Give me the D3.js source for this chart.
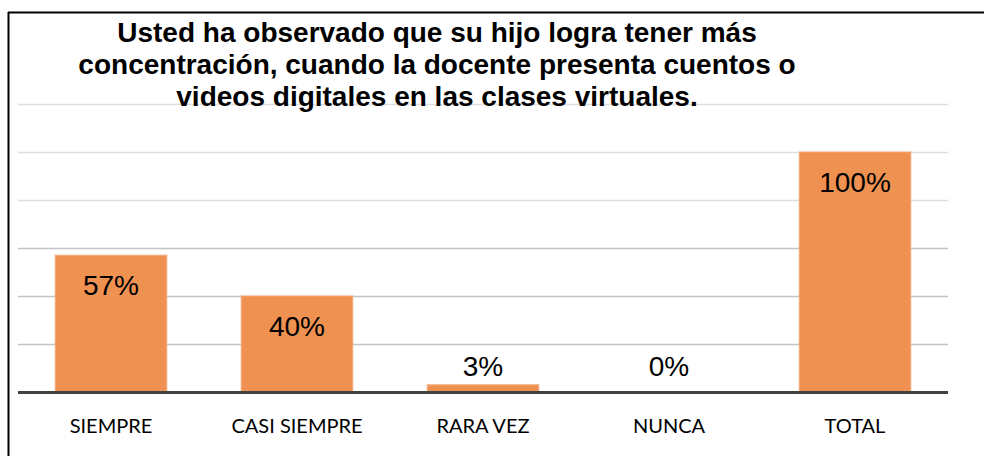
<!DOCTYPE html>
<html><head><meta charset="utf-8">
<script src="https://cdn.jsdelivr.net/npm/d3@7"></script>
<style>body{margin:0;background:#fff}</style>
</head><body><svg id="c" width="984" height="456"></svg>
<script>
const categories = ["SIEMPRE","CASI SIEMPRE","RARA VEZ","NUNCA","TOTAL"];
const values = [57, 40, 3, 0, 100];
const valueLabels = ["57%","40%","3%","0%","100%"];
const gridTicks = [0,20,40,60,80,100,120];
const titleLines = ["Usted ha observado que su hijo logra tener más",
  "concentración, cuando la docente presenta cuentos o",
  "videos digitales en las clases virtuales."];

(function(){
const svg = d3.select("#c");
const pL = 18, pR = 948, pT = 104, pB = 392;
const x = d3.scaleBand().domain(categories).range([pL, pR]).paddingInner(0.4).paddingOuter(0.2);
const y = d3.scaleLinear().domain([0,120]).range([pB, pT]);

// frame
svg.append("line").attr("x1",8.5).attr("x2",8.5).attr("y1",12).attr("y2",456).attr("stroke","#000").attr("stroke-width",2);
svg.append("line").attr("x1",8).attr("x2",984).attr("y1",12.5).attr("y2",12.5).attr("stroke","#000").attr("stroke-width",2);

// gridlines
svg.append("g").selectAll("line").data(gridTicks.filter(d=>d>0)).join("line")
  .attr("x1",pL).attr("x2",pR).attr("y1",d=>y(d)+0.5).attr("y2",d=>y(d)+0.5)
  .attr("stroke",d=>d>=80?"#dedede":"#c4c4c4").attr("stroke-width",1.5);

// bars
svg.append("g").selectAll("rect").data(values).join("rect")
  .attr("x",(d,i)=>x(categories[i])).attr("width",x.bandwidth())
  .attr("y",d=>y(d)).attr("height",d=>pB-y(d))
  .attr("fill","#ef9150").attr("stroke","#f4ac7c").attr("stroke-width",1);

// baseline
svg.append("line").attr("x1",pL).attr("x2",pR).attr("y1",pB+0.5).attr("y2",pB+0.5)
  .attr("stroke","#404040").attr("stroke-width",3);

// value labels
svg.append("g").selectAll("text").data(values).join("text")
  .attr("x",(d,i)=>x(categories[i])+x.bandwidth()/2)
  .attr("y",d=>{const h=pB-y(d); return h>60 ? y(d)+40 : pB-16;})
  .attr("text-anchor","middle").attr("font-family","Liberation Sans, Arial, sans-serif")
  .attr("font-size",28).attr("fill","#000").text((d,i)=>valueLabels[i]);

// category labels
svg.append("g").selectAll("text").data(categories).join("text")
  .attr("x",d=>x(d)+x.bandwidth()/2).attr("y",433)
  .attr("text-anchor","middle").attr("font-family","Lato, Carlito, Calibri, sans-serif")
  .attr("font-size",20).attr("fill","#000").text(d=>d);

// title
svg.append("g").selectAll("text").data(titleLines).join("text")
  .attr("x",437).attr("y",(d,i)=>42+i*32)
  .attr("text-anchor","middle").attr("font-family","Liberation Sans, Arial, sans-serif")
  .attr("font-weight","bold").attr("font-size",28).attr("fill","#000").text(d=>d);
})();
</script></body></html>
